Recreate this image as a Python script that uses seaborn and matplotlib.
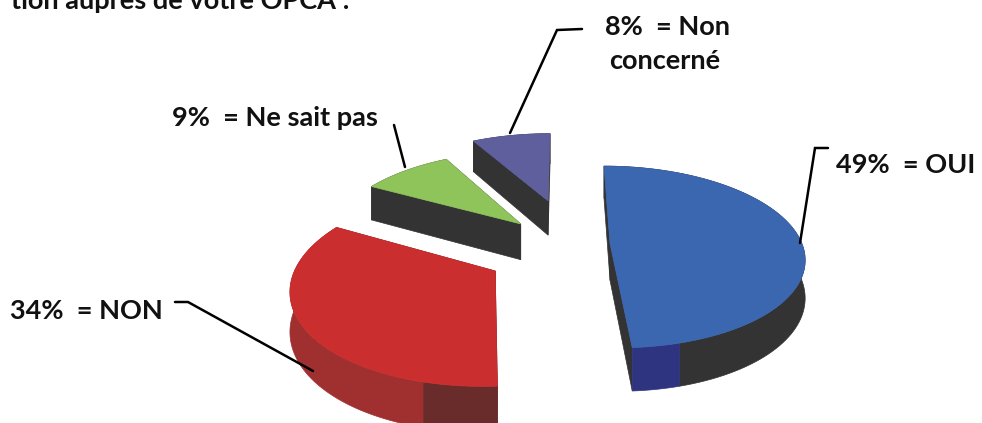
import numpy as np
import matplotlib
matplotlib.use('Agg')
import matplotlib.pyplot as plt
import seaborn as sns
from matplotlib.patches import Polygon

categories = ['OUI', 'NON', 'Ne sait pas', 'Non concerné']
values = [49, 34, 9, 8]
explode = [0.24, 0.42, 0.33, 0.54]
x_nudge = [0, 0.012, 0, 0.045]
y_nudge = [0, -0.065, 0, 0]

top_colors = ['#3b66b0', '#cb2e2e', '#8fc45a', '#5f5f9e']
wall_colors = ['#333333', '#a03030', '#333333', '#333333']
near_colors = ['#2f3480', '#6a2b2b', '#333333', '#333333']
near_split = [-74, -104.5, None, None]

label_texts = ['49%  = OUI', '34%  = NON', '9%  = Ne sait pas', '8%  = Non', 'concerné']
label_pos = [(836, 165), (10, 311), (172, 118), (605, 27), (609, 61)]
leaders = [
    [(800, 243), (815, 148), (828, 148)],
    [(313, 371), (188, 302), (175, 302)],
    [(405, 167), (394, 125)],
    [(510, 133), (557, 30), (582, 29)],
]

# ground plane -> pixels, simple perspective
CX, CY, RX, RY, P, DEPTH = 564, 244, 192, 89, 0.15, 37


def project(x, y):
    s = 1 / (1 + P * y)
    return CX + RX * x * s, CY - RY * y * s, s


def arc(center, t1, t2, n=90):
    t = np.radians(np.linspace(t1, t2, n))
    return project(center[0] + np.cos(t), center[1] + np.sin(t))


def wall(ax, x, y, s, color):
    pts = np.r_[np.c_[x, y], np.c_[x, y + DEPTH * s][::-1]]
    ax.add_patch(Polygon(pts, closed=True, fc=color, ec=color, lw=0.5))


sns.set_theme(style='white')
plt.rcParams['font.family'] = ['Lato', 'DejaVu Sans']

fig = plt.figure(figsize=(9.82, 4.23), dpi=100)
ax = fig.add_axes([0, 0, 1, 1])
wedges, _ = ax.pie(values, explode=explode, startangle=90, counterclock=False)
ax.set_aspect('auto')
ax.set_xlim(0, 982)
ax.set_ylim(423, 0)
ax.axis('off')

slices = []
for i, w in enumerate(wedges):
    slices.append((i, (w.center[0] + x_nudge[i], w.center[1] + y_nudge[i]), w.theta1, w.theta2))
    w.remove()

# back slices first
for i, c, t1, t2 in [slices[3], slices[2], slices[0], slices[1]]:
    ax_, ay_, s0 = project(c[0], c[1])
    for t in (t1, t2):
        ex, ey, es = arc(c, t, t, 2)
        wall(ax, np.r_[ax_, ex[0]], np.r_[ay_, ey[0]], np.r_[s0, es[0]], '#333333' if i != 1 else near_colors[1])
    if near_split[i] is None:
        wall(ax, *arc(c, t1, t2), wall_colors[i])
    elif i == 0:
        wall(ax, *arc(c, near_split[i], t2), wall_colors[i])
        wall(ax, *arc(c, t1, near_split[i]), near_colors[i])
    else:
        wall(ax, *arc(c, t1, near_split[i]), wall_colors[i])
        wall(ax, *arc(c, near_split[i], t2), near_colors[i])
    x, y, _ = arc(c, t1, t2)
    top = np.r_[[[ax_, ay_]], np.c_[x, y]]
    ax.add_patch(Polygon(top, closed=True, fc=top_colors[i], ec=top_colors[i], lw=0.5))

for line in leaders:
    xs, ys = zip(*line)
    ax.plot(xs, ys, color='black', lw=1.8, solid_joinstyle='miter')

fs = 19.5
for txt, (tx, ty) in zip(label_texts, label_pos):
    ax.text(tx, ty, txt, fontsize=fs, fontweight='bold', va='center', ha='left', color='#111111')
ax.text(350, 9, 'tion auprès de votre OPCA :', fontsize=fs, fontweight='bold', va='baseline', ha='right', color='#111111')

fig.savefig('out.png', dpi=100)
